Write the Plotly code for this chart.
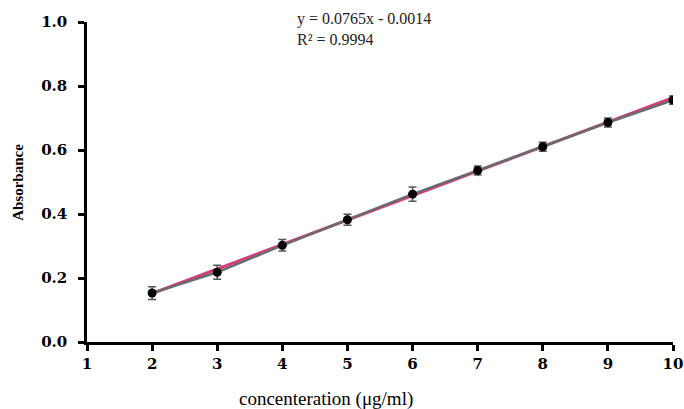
import plotly.graph_objects as go

conc = [2, 3, 4, 5, 6, 7, 8, 9, 10]
absorbance = [0.153, 0.218, 0.302, 0.382, 0.462, 0.536, 0.610, 0.686, 0.756]
err = [0.020, 0.022, 0.018, 0.017, 0.022, 0.014, 0.014, 0.014, 0.013]
slope = 0.0765
intercept = -0.0014
x_ticks = [1, 2, 3, 4, 5, 6, 7, 8, 9, 10]
y_ticks = [0.0, 0.2, 0.4, 0.6, 0.8, 1.0]

fit_x = [conc[0], conc[-1]]
fit_y = [slope * v + intercept for v in fit_x]

font = "Liberation Serif, Times New Roman, serif"
tickfont_family = "DejaVu Serif, serif"

fig = go.Figure()
fig.add_trace(go.Scatter(x=fit_x, y=fit_y, mode="lines",
                         line=dict(color="#d63a7e", width=3), hoverinfo="skip"))
fig.add_trace(go.Scatter(x=conc, y=absorbance, mode="lines+markers",
                         line=dict(color="#6b6b6b", width=2.5),
                         marker=dict(color="black", size=9),
                         error_y=dict(type="data", array=err, color="#555555",
                                      thickness=1.5, width=4)))

fig.add_annotation(x=0.355, y=1.045, xref="paper", yref="paper",
                   text="y = 0.0765x - 0.0014<br>R² = 0.9994",
                   showarrow=False, xanchor="left", yanchor="top", align="left",
                   font=dict(family=font, size=16, color="#222"))
fig.add_annotation(x=0.408, y=-0.178, xref="paper", yref="paper",
                   text="concenteration (μg/ml)", showarrow=False,
                   xanchor="center", yanchor="middle",
                   font=dict(family=font, size=19, color="black"))
fig.add_annotation(x=-0.118, y=0.5, xref="paper", yref="paper",
                   text="<b>Absorbance</b>", showarrow=False, textangle=-90,
                   xanchor="center", yanchor="middle",
                   font=dict(family=font, size=15, color="black"))

fig.update_layout(
    width=684, height=409, showlegend=False,
    plot_bgcolor="white", paper_bgcolor="white",
    margin=dict(l=87, r=11, t=22, b=67),
    font=dict(family=font, color="black"),
    xaxis=dict(range=[1, 10], tickvals=x_ticks, showgrid=False, zeroline=False,
               showline=True, linecolor="black", linewidth=2.5, automargin=False,
               ticks="outside", ticklen=6, tickwidth=2.5, tickcolor="black",
               tickfont=dict(family=tickfont_family, size=15, color="black", weight="bold")),
    yaxis=dict(range=[0, 1.0], tickvals=y_ticks, tickformat=".1f", showgrid=False,
               zeroline=False, showline=True, linecolor="black", linewidth=2.5,
               automargin=False, ticklabelstandoff=8,
               ticks="outside", ticklen=6, tickwidth=2.5, tickcolor="black",
               tickfont=dict(family=tickfont_family, size=15, color="black", weight="bold")),
)

fig.write_html("out.html", config={"displayModeBar": False},
               post_script="document.body.style.margin='0';document.body.style.overflow='hidden';")
